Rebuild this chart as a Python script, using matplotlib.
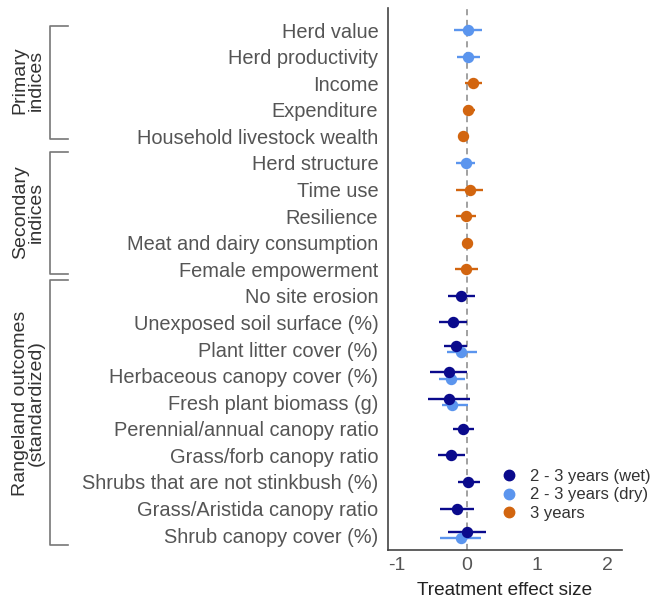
import numpy as np
import matplotlib.pyplot as plt
from matplotlib.lines import Line2D

plt.rcParams['font.family'] = ['Liberation Sans', 'DejaVu Sans']
plt.rcParams['axes.unicode_minus'] = False

labels = ['Herd value', 'Herd productivity', 'Income', 'Expenditure',
          'Household livestock wealth', 'Herd structure', 'Time use',
          'Resilience', 'Meat and dairy consumption', 'Female empowerment',
          'No site erosion', 'Unexposed soil surface (%)', 'Plant litter cover (%)',
          'Herbaceous canopy cover (%)', 'Fresh plant biomass (g)',
          'Perennial/annual canopy ratio', 'Grass/forb canopy ratio',
          'Shrubs that are not stinkbush (%)', 'Grass/Aristida canopy ratio',
          'Shrub canopy cover (%)']

# 2 - 3 years (wet): row index, estimate, low, high
wet_rows = [10, 11, 12, 13, 14, 15, 16, 17, 18, 19]
wet_est = [-0.08, -0.20, -0.16, -0.25, -0.26, -0.05, -0.23, 0.02, -0.14, 0.00]
wet_lo = [-0.27, -0.40, -0.32, -0.52, -0.55, -0.20, -0.41, -0.13, -0.38, -0.27]
wet_hi = [0.12, 0.00, 0.00, 0.00, 0.05, 0.10, -0.03, 0.18, 0.10, 0.27]

# 2 - 3 years (dry)
dry_rows = [0, 1, 5, 12, 13, 14, 19]
dry_est = [0.01, 0.01, -0.02, -0.08, -0.23, -0.21, -0.09]
dry_lo = [-0.19, -0.14, -0.16, -0.29, -0.39, -0.36, -0.38]
dry_hi = [0.22, 0.18, 0.12, 0.14, -0.03, 0.01, 0.20]

# 3 years
y3_rows = [2, 3, 4, 6, 7, 8, 9]
y3_est = [0.08, 0.02, -0.06, 0.04, -0.01, 0.00, -0.01]
y3_lo = [-0.03, -0.06, -0.13, -0.15, -0.16, -0.07, -0.17]
y3_hi = [0.21, 0.11, 0.01, 0.23, 0.13, 0.08, 0.15]

groups = ['Primary\nindices', 'Secondary\nindices', 'Rangeland outcomes\n(standardized)']
# bracket extents in figure pixels (top, bottom) and label centre
group_px = [(26, 139), (152, 274), (280, 545)]
group_mid = [80, 212, 403]

c_wet = '#0A0A8C'
c_dry = '#5B95EE'
c_3y = '#D2650F'

W, H = 652, 601
fig = plt.figure(figsize=(W / 100, H / 100), dpi=100)
ax = fig.add_axes([388 / W, 1 - 550 / H, (622 - 388) / W, (550 - 8) / H])

ax.axvline(0, color='#888888', ls=(0, (4, 3)), lw=1.1, zorder=0)

rangeland = set(range(10, 20))
dry_in_range = [r for r in dry_rows if r in rangeland]


def offs(rows, d):
    return np.array([r + (d if (r in dry_in_range) else 0) for r in rows])


def draw(rows, est, lo, hi, color, d, label):
    y = offs(rows, d)
    est = np.array(est)
    ax.errorbar(est, y, xerr=[est - np.array(lo), np.array(hi) - est],
                fmt='o', color=color, ms=7.2, elinewidth=1.7, capsize=0,
                label=label, zorder=3)


draw(dry_rows, dry_est, dry_lo, dry_hi, c_dry, 0.12, '2 - 3 years (dry)')
draw(wet_rows, wet_est, wet_lo, wet_hi, c_wet, -0.12, '2 - 3 years (wet)')
draw(y3_rows, y3_est, y3_lo, y3_hi, c_3y, 0, '3 years')

ax.set_xlim(-1.12, 2.2)
ax.set_ylim(19.56, -0.83)
ax.set_yticks(range(len(labels)))
ax.set_yticklabels(labels, fontsize=14.4, color='#555555')
ax.set_xticks([-1, 0, 1, 2])
ax.tick_params(axis='y', length=0, pad=7)
ax.tick_params(axis='x', length=0, labelsize=14, labelcolor='#555555', pad=5)
ax.set_xlabel('Treatment effect size', fontsize=13.7, color='#222222', labelpad=6)
for s in ['top', 'right']:
    ax.spines[s].set_visible(False)
for s in ['left', 'bottom']:
    ax.spines[s].set_color('#444444')
    ax.spines[s].set_linewidth(1.2)

handles = [Line2D([], [], marker='o', ls='', color=c, ms=7.5) for c in (c_wet, c_dry, c_3y)]
ax.legend(handles, ['2 - 3 years (wet)', '2 - 3 years (dry)', '3 years'],
          loc='lower right', bbox_to_anchor=(1.165, 0.035), frameon=False,
          fontsize=12, handletextpad=0.75, labelspacing=0.22, handlelength=1.0,
          labelcolor='#333333', borderaxespad=0.2)

# group brackets
for name, (t, b), mid in zip(groups, group_px, group_mid):
    xl = 50 / W
    xr = 68 / W
    yt = 1 - t / H
    yb = 1 - b / H
    fig.add_artist(Line2D([xr, xl, xl, xr], [yt, yt, yb, yb],
                          transform=fig.transFigure, color='#777777', lw=1.2))
    fig.text(28 / W, 1 - mid / H, name, rotation=90, ha='center', va='center',
             fontsize=14, color='#333333', linespacing=0.9)

fig.savefig('out.png', dpi=100)
